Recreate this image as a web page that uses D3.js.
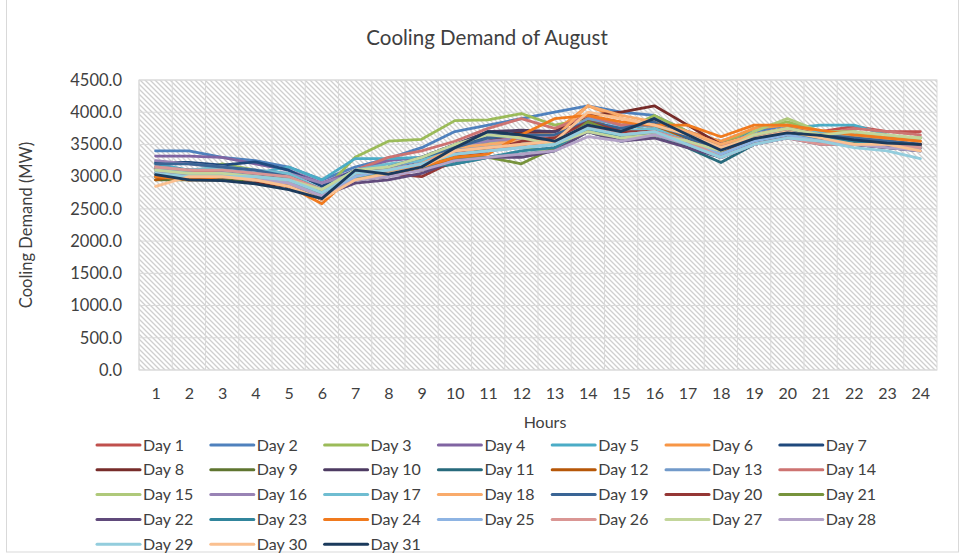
<!DOCTYPE html>
<html><head><meta charset="utf-8">
<script src="https://cdn.jsdelivr.net/npm/d3@7"></script>
<style>body{margin:0;background:#fff;} svg{display:block;font-family:Lato, "Open Sans", sans-serif;}</style>
</head><body><svg id="c" width="966" height="555"></svg>
<script>
const hours = d3.range(1,25).map(String);
const yTicks = [0,500,1000,1500,2000,2500,3000,3500,4000,4500];
const dayNames = d3.range(1,32).map(d=>"Day "+d);
const dayColors = ["#C0504D","#4F81BD","#9BBB59","#8064A2","#4BACC6","#F79646","#1F497D",
 "#772C2A","#5F7530","#4D3B62","#276A7C","#B65708","#729ACA","#CD7371",
 "#AFC97A","#9983B5","#6FBDD1","#F9AB6B","#3A6595","#953735","#77933C",
 "#604A7B","#31859C","#F07A1E","#8EB4E3","#DA9694","#C3D69B","#B3A2C7",
 "#93CDDD","#FAC090","#1B3A5C"];
const day1  = [3120,3100,3100,3000,2950,2700,3000,3150,3250,3450,3550,3650,3700,3950,3800,3850,3650,3500,3650,3750,3700,3780,3700,3700];
const day2  = [3400,3400,3300,3250,3150,2950,3150,3280,3450,3700,3800,3900,4000,4100,4000,3950,3700,3550,3700,3800,3700,3700,3600,3600];
const day3  = [3150,3050,3200,3100,3000,2760,3300,3550,3580,3870,3880,3980,3800,3900,3700,3950,3700,3500,3750,3850,3700,3650,3600,3600];
const day4  = [3320,3320,3300,3200,3100,2900,3100,3250,3300,3500,3600,3700,3700,3800,3650,3750,3600,3400,3550,3700,3600,3550,3500,3450];
const day5  = [3200,3100,3050,3050,3150,2950,3280,3280,3300,3500,3650,3600,3500,3850,3750,3800,3600,3400,3650,3750,3800,3800,3650,3550];
const day6  = [3050,3000,3050,2950,2850,2650,3000,3050,3150,3350,3500,3600,3700,4100,3900,3800,3700,3550,3750,3800,3700,3650,3600,3550];
const day7  = [3220,3220,3180,3230,3100,2850,3100,3100,3200,3400,3650,3650,3600,3800,3700,3900,3600,3350,3550,3650,3600,3550,3500,3500];
const day8  = [3000,2950,2950,2900,2850,2650,3050,3050,3150,3350,3550,3700,3700,3950,4000,4100,3800,3500,3650,3750,3650,3600,3550,3500];
const day9  = [2950,2950,2950,2950,2900,2700,2950,3050,3200,3300,3450,3500,3550,3850,3650,3700,3550,3350,3550,3650,3550,3550,3500,3450];
const day10 = [3150,3100,3100,3050,2950,2750,2950,3000,3300,3500,3700,3720,3700,3800,3600,3650,3500,3300,3500,3600,3550,3500,3450,3450];
const day11 = [3100,3050,3050,3000,2900,2700,3000,3050,3100,3200,3300,3350,3400,3700,3550,3650,3450,3220,3500,3600,3550,3500,3450,3400];
const day12 = [2950,3050,3000,2950,2850,2650,3000,3050,3100,3300,3400,3500,3550,3900,3700,3750,3600,3400,3600,3700,3600,3600,3500,3500];
const day13 = [3150,3100,3100,3050,3000,2800,3050,3150,3250,3400,3500,3550,3600,3900,3800,3850,3650,3450,3650,3700,3600,3550,3500,3450];
const day14 = [3150,3100,3050,3000,2950,2750,3100,3300,3400,3550,3750,3900,3750,3950,3800,3800,3700,3500,3600,3700,3650,3750,3700,3650];
const day15 = [3100,3050,3050,3000,2950,2750,3000,3100,3200,3500,3550,3450,3400,3750,3650,3650,3550,3400,3700,3900,3700,3700,3600,3600];
const day16 = [3250,3200,3150,3100,3050,2900,3050,3150,3300,3450,3550,3600,3650,3850,3700,3650,3500,3350,3550,3650,3550,3550,3500,3400];
const day17 = [3150,3100,3150,3100,3050,2800,3100,3200,3250,3450,3500,3500,3600,3800,3700,3750,3550,3300,3550,3650,3700,3650,3550,3450];
const day18 = [3000,3050,3050,3000,2900,2650,3000,3100,3200,3450,3500,3550,3600,4100,3950,3850,3700,3500,3650,3750,3650,3600,3550,3450];
const day19 = [3200,3200,3150,3100,3000,2800,3050,3150,3300,3450,3600,3650,3650,3850,3750,3850,3600,3400,3600,3700,3650,3600,3550,3500];
const day20 = [3050,3000,3000,2950,2850,2650,3050,3050,3000,3250,3400,3550,3600,3850,3700,3700,3550,3400,3550,3650,3600,3550,3500,3500];
const day21 = [3000,3000,3000,2950,2850,2700,3000,3050,3200,3300,3300,3200,3450,3850,3650,3650,3500,3350,3550,3650,3550,3550,3500,3450];
const day22 = [3050,3000,3000,2950,2850,2700,2900,2950,3050,3250,3300,3300,3400,3700,3550,3600,3450,3300,3500,3600,3500,3500,3450,3400];
const day23 = [3100,3050,3050,3000,2950,2750,3000,3100,3150,3200,3300,3400,3450,3750,3600,3650,3500,3300,3550,3650,3600,3550,3500,3450];
const day24 = [3000,2950,3000,2950,2850,2580,3050,3100,3150,3300,3350,3650,3900,3950,3850,3800,3800,3620,3800,3800,3720,3650,3600,3550];
const day25 = [3100,3050,3050,3000,2900,2700,3000,3100,3200,3350,3400,3450,3500,3800,3650,3700,3550,3350,3550,3650,3550,3500,3500,3450];
const day26 = [3150,3100,3100,3050,3000,2800,3050,3100,3200,3400,3450,3500,3550,3800,3650,3700,3550,3300,3500,3600,3500,3500,3500,3450];
const day27 = [3100,3050,3050,3000,2950,2800,3100,3150,3300,3500,3650,3600,3500,3700,3600,3650,3550,3400,3650,3750,3650,3700,3650,3600];
const day28 = [3050,3000,3000,2950,2900,2700,2950,3000,3100,3250,3300,3350,3400,3620,3550,3650,3500,3300,3500,3600,3550,3500,3450,3400];
const day29 = [3050,3000,3000,3000,2950,2750,3050,3100,3200,3350,3400,3450,3500,3750,3650,3700,3500,3300,3500,3600,3550,3450,3400,3280];
const day30 = [2850,3000,3000,2950,2850,2650,2950,3050,3150,3400,3450,3500,3550,4000,3900,3800,3650,3450,3600,3700,3600,3500,3500,3400];
const day31 = [3030,2950,2940,2890,2800,2660,3100,3040,3150,3450,3700,3650,3550,3800,3700,3900,3650,3410,3590,3680,3640,3570,3520,3500];
const series = [day1,day2,day3,day4,day5,day6,day7,day8,day9,day10,day11,day12,day13,day14,day15,day16,
 day17,day18,day19,day20,day21,day22,day23,day24,day25,day26,day27,day28,day29,day30,day31];

const svg = d3.select("#c");
const L=139, R=937, T=80, B=370;
const defs = svg.append("defs");
const pat = defs.append("pattern").attr("id","hatch").attr("patternUnits","userSpaceOnUse")
  .attr("width",5).attr("height",5);
pat.append("rect").attr("width",5).attr("height",5).attr("fill","#fff");
pat.append("path").attr("d","M-1,-1L6,6M-1,4L1,6M4,-1L6,1").attr("stroke","#cfcfcf").attr("stroke-width",1.3);

// outer border
svg.append("rect").attr("x",6.5).attr("y",-2).attr("width",952).attr("height",554)
  .attr("fill","none").attr("stroke","#d9d9d9");

const x = d3.scalePoint().domain(hours).range([L,R]).padding(0.5);
const xb = d3.scaleBand().domain(hours).range([L,R]);
const y = d3.scaleLinear().domain([0,4500]).range([B,T]);

svg.append("rect").attr("x",L).attr("y",T).attr("width",R-L).attr("height",B-T).attr("fill","url(#hatch)");
const g = svg.append("g");
g.selectAll(".hg").data(yTicks).join("line").attr("x1",L).attr("x2",R)
  .attr("y1",d=>y(d)).attr("y2",d=>y(d)).attr("stroke","#d9d9d9").attr("stroke-width",1);
g.selectAll(".vg").data(hours).join("line").attr("x1",d=>xb(d)).attr("x2",d=>xb(d))
  .attr("y1",T).attr("y2",B).attr("stroke","#d9d9d9").attr("stroke-width",1);
svg.append("rect").attr("x",L).attr("y",T).attr("width",R-L).attr("height",B-T)
  .attr("fill","none").attr("stroke","#d9d9d9");

// axes
const ya = svg.append("g").attr("transform",`translate(${L},0)`)
  .call(d3.axisLeft(y).tickValues(yTicks).tickFormat(d3.format(".1f")).tickSize(0).tickPadding(17));
ya.select(".domain").remove();
ya.selectAll("text").attr("font-size",16.5).attr("fill","#404040").attr("font-family","Lato, sans-serif");
const xa = svg.append("g").attr("transform",`translate(0,${B})`)
  .call(d3.axisBottom(x).tickSize(0).tickPadding(18));
xa.select(".domain").remove();
xa.selectAll("text").attr("font-size",16).attr("fill","#404040").attr("font-family","Lato, sans-serif");

// lines
const line = d3.line().x((d,i)=>x(hours[i])).y(d=>y(d));
svg.append("g").selectAll("path").data(series).join("path")
  .attr("d",line).attr("fill","none").attr("stroke",(d,i)=>dayColors[i])
  .attr("stroke-width",2.8).attr("stroke-linejoin","round").attr("stroke-linecap","round");

// titles
svg.append("text").attr("x",487).attr("y",45).attr("text-anchor","middle")
  .attr("font-size",20.5).attr("fill","#404040").text("Cooling Demand of August");
svg.append("text").attr("x",545).attr("y",428).attr("text-anchor","middle")
  .attr("font-size",16).attr("fill","#404040").text("Hours");
svg.append("text").attr("transform","translate(32,225) rotate(-90)").attr("text-anchor","middle")
  .attr("font-size",16.5).attr("fill","#404040").text("Cooling Demand (MW)");

// legend
const lg = svg.append("g");
const items = lg.selectAll("g").data(dayNames).join("g")
  .attr("transform",(d,i)=>`translate(${97+(i%7)*113.8},${445+Math.floor(i/7)*24.8})`);
items.append("line").attr("x1",0).attr("x2",43).attr("stroke",(d,i)=>dayColors[i])
  .attr("stroke-width",3).attr("stroke-linecap","round");
items.append("text").attr("x",46).attr("dy","0.35em").attr("font-size",16).attr("fill","#404040").text(d=>d);
</script></body></html>
